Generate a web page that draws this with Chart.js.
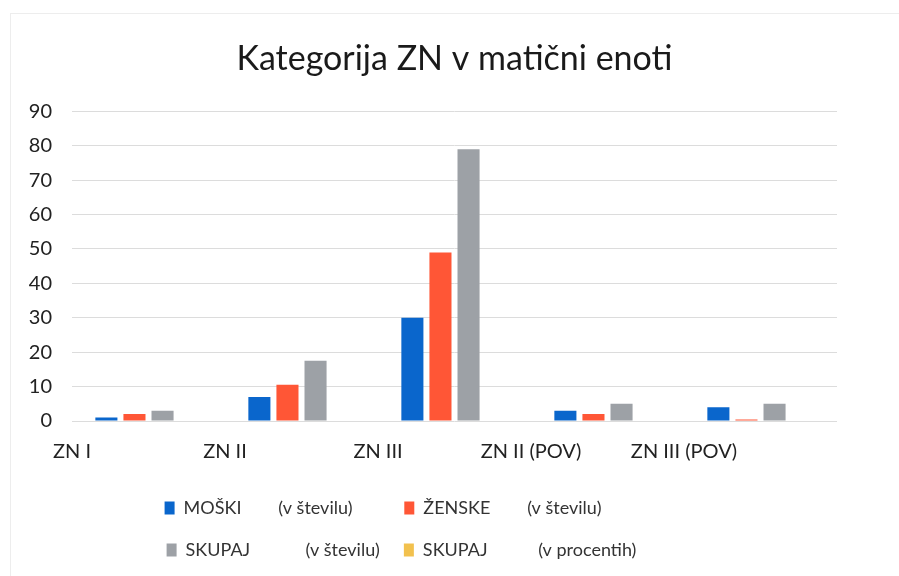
<!DOCTYPE html>
<html>
<head>
<meta charset="utf-8">
<script src="https://cdn.jsdelivr.net/npm/chart.js@4.4.1/dist/chart.umd.min.js"></script>
<style>
html, body { margin: 0; padding: 0; background: #fff; }
#wrap { position: relative; width: 899px; height: 576px; }
#frame { position: absolute; left: 10px; top: 13px; right: 0; bottom: 0;
         border-left: 1px solid #ededed; border-top: 1px solid #ededed; pointer-events: none; }
</style>
</head>
<body>
<div id="wrap">
  <canvas id="chart" width="899" height="576"></canvas>
  <div id="frame"></div>
</div>
<script>
// -- DATA -- //
const categories = ['ZN I', 'ZN II', 'ZN III', 'ZN II (POV)', 'ZN III (POV)'];
const series_names = ['MOŠKI', 'ŽENSKE', 'SKUPAJ', 'SKUPAJ'];
const series_units = ['(v številu)', '(v številu)', '(v številu)', '(v procentih)'];
const moski = [1, 7, 30, 3, 4];
const zenske = [2, 10.5, 49, 2, 0.4];
const skupaj = [3, 17.5, 79, 5, 5];
const skupaj_pct = [null, null, null, null, null]; // not visible in the picture
const y_min = 0;
const y_max = 90;
const y_step = 10;

const series_colors = ['#0a66cc', '#ff5636', '#9da1a6', '#f2c14e'];

// -- LEGEND TEXT -- //
// Excel legend has wide gaps inside the labels, pad with spaces to match
const legend_font = '18px Lato';
const measure_ctx = document.createElement('canvas').getContext('2d');
measure_ctx.font = legend_font;

const legend_unit_at = [94, 103, 119, 113];
const legend_text_w = [193, 318, 193, 318];

function PadTo(s, px) {
    while (measure_ctx.measureText(s).width < px) { s += ' '; }
    return s;
}

function LegendText(i) {
    return PadTo(PadTo(series_names[i], legend_unit_at[i]) + series_units[i], legend_text_w[i]);
}

// -- CHART -- //
Chart.defaults.font.family = 'Lato';
Chart.defaults.color = '#333';

const all_values = [moski, zenske, skupaj, skupaj_pct];
const datasets = [];
for (let i = 0; i < all_values.length; i++) {
    datasets.push({
        label: series_names[i] + ' ' + series_units[i],
        data: all_values[i],
        backgroundColor: series_colors[i],
        borderWidth: 0,
        categoryPercentage: 0.734,
        barPercentage: 0.786
    });
}

const ctx = document.getElementById('chart').getContext('2d');
const chart = new Chart(ctx, {
    type: 'bar',
    data: { labels: categories, datasets: datasets },
    options: {
        responsive: false,
        animation: false,
        layout: { padding: { top: 13, left: 10, right: 62, bottom: 7 } },
        plugins: {
            title: {
                display: true,
                text: 'Kategorija ZN v matični enoti',
                fullSize: false,
                color: '#1a1a1a',
                font: { size: 34, weight: 'normal' },
                padding: { top: 25.5, bottom: 32 }
            },
            legend: {
                position: 'bottom',
                fullSize: false,
                labels: {
                    boxWidth: 10,
                    boxHeight: 13,
                    padding: 24,
                    color: '#333',
                    font: { size: 18 },
                    generateLabels: function (chart) {
                        const items = Chart.defaults.plugins.legend.labels.generateLabels(chart);
                        items.forEach(function (it, i) { it.text = LegendText(i); });
                        return items;
                    }
                }
            },
            tooltip: { enabled: false }
        },
        scales: {
            x: {
                display: false,
                offset: true
            },
            // labels sit on the category edges like in the original
            x2: {
                type: 'category',
                position: 'bottom',
                labels: categories.concat(['']),
                offset: false,
                grid: { display: false, drawTicks: false },
                border: { display: false },
                ticks: { autoSkip: false, maxRotation: 0, padding: 19, color: '#222', font: { size: 20 } },
                afterFit: function (scale) { scale.height = 54; }
            },
            y: {
                min: y_min,
                max: y_max,
                ticks: { stepSize: y_step, padding: 20, color: '#222', font: { size: 20 } },
                grid: { color: '#dcdcdc', drawTicks: false },
                border: { display: false },
                afterFit: function (scale) { scale.width = 62; }
            }
        }
    }
});
</script>
</body>
</html>
